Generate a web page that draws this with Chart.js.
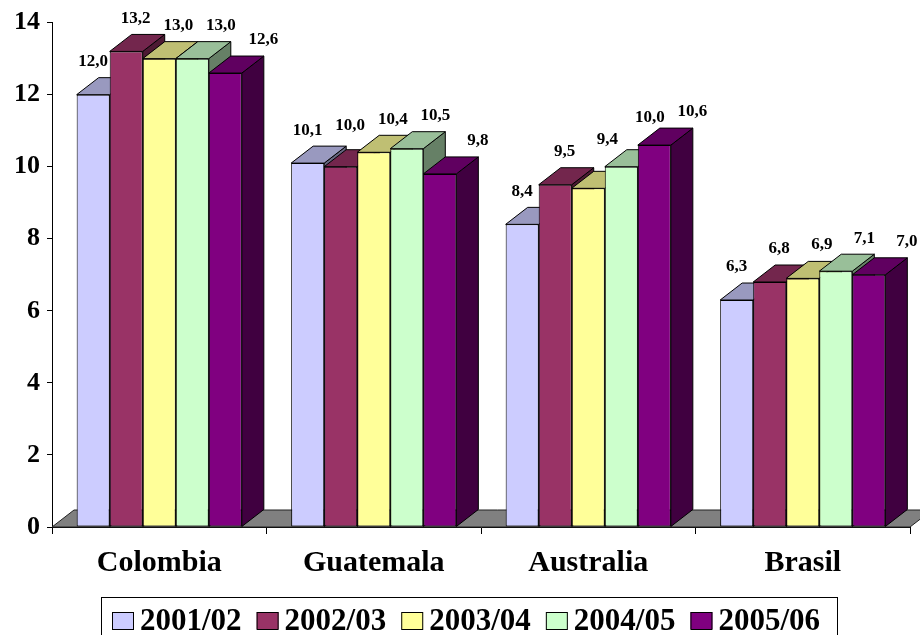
<!DOCTYPE html>
<html>
<head>
<meta charset="utf-8">
<title>Producción por temporada</title>
<script src="https://cdn.jsdelivr.net/npm/chart.js@4/dist/chart.umd.min.js"></script>
<style>
  html, body { margin: 0; padding: 0; background: #ffffff; }
  #wrap { width: 920px; height: 635px; position: relative; }
  canvas { display: block; }
</style>
</head>
<body>
<div id="wrap"><canvas id="chart" width="920" height="635"></canvas></div>
<script>
// Categories, seasons and values
const countries = ['Colombia', 'Guatemala', 'Australia', 'Brasil'];
const seasons = ['2001/02', '2002/03', '2003/04', '2004/05', '2005/06'];
const season2001 = [12.0, 10.1, 8.4, 6.3];
const season2002 = [13.2, 10.0, 9.5, 6.8];
const season2003 = [13.0, 10.4, 9.4, 6.9];
const season2004 = [13.0, 10.5, 10.0, 7.1];
const season2005 = [12.6, 9.8, 10.6, 7.0];
const yTickValues = [0, 2, 4, 6, 8, 10, 12, 14];

const seriesValues = [season2001, season2002, season2003, season2004, season2005];
const frontColors = ['#CCCCFF', '#993366', '#FFFF99', '#CCFFCC', '#800080'];

// Extrusion of the columns (pixels to the right / upwards)
const DEPTH_X = 22;
const DEPTH_Y = -17;
const SERIF = '"Liberation Serif", "Times New Roman", serif';

function shade(hex, f) {
  const n = parseInt(hex.slice(1), 16);
  const r = Math.round(((n >> 16) & 255) * f);
  const g = Math.round(((n >> 8) & 255) * f);
  const b = Math.round((n & 255) * f);
  return 'rgb(' + r + ',' + g + ',' + b + ')';
}

function poly(ctx, pts, fill) {
  ctx.beginPath();
  ctx.moveTo(pts[0][0], pts[0][1]);
  for (let i = 1; i < pts.length; i++) ctx.lineTo(pts[i][0], pts[i][1]);
  ctx.closePath();
  ctx.fillStyle = fill;
  ctx.fill();
  ctx.stroke();
}

const columns3d = {
  id: 'columns3d',
  beforeDatasetsDraw(chart) {
    // grey floor under the columns
    const { ctx, chartArea: a } = chart;
    ctx.save();
    ctx.lineWidth = 1;
    ctx.strokeStyle = '#222222';
    poly(ctx, [
      [a.left, a.bottom], [a.right, a.bottom],
      [a.right + DEPTH_X, a.bottom + DEPTH_Y], [a.left + DEPTH_X, a.bottom + DEPTH_Y]
    ], '#808080');
    ctx.restore();
  },
  beforeDatasetDraw() {
    // the columns are painted below, back to front from the first series
    return false;
  },
  afterDatasetsDraw(chart) {
    const ctx = chart.ctx;
    const nSets = chart.data.datasets.length;
    chart.data.datasets.forEach((ds, i) => {
      const meta = chart.getDatasetMeta(i);
      const base = ds.backgroundColor;
      ctx.save();
      ctx.lineWidth = 1;
      ctx.strokeStyle = '#000000';
      meta.data.forEach(el => {
        const p = el.getProps(['x', 'y', 'base', 'width'], true);
        const x0 = p.x - p.width / 2, x1 = p.x + p.width / 2;
        // side face, then top face
        poly(ctx, [[x1, p.y], [x1 + DEPTH_X, p.y + DEPTH_Y], [x1 + DEPTH_X, p.base + DEPTH_Y], [x1, p.base]], shade(base, 0.5));
        poly(ctx, [[x0, p.y], [x1, p.y], [x1 + DEPTH_X, p.y + DEPTH_Y], [x0 + DEPTH_X, p.y + DEPTH_Y]], shade(base, 0.75));
      });
      ctx.restore();
      // front faces through the bar elements
      meta.data.forEach(el => el.draw(ctx, chart.chartArea));
    });

    // value labels with decimal comma, lifted clear of the next column's top
    ctx.save();
    ctx.font = 'bold 17px ' + SERIF;
    ctx.fillStyle = '#000000';
    ctx.textAlign = 'center';
    ctx.textBaseline = 'middle';
    chart.data.datasets.forEach((ds, i) => {
      const meta = chart.getDatasetMeta(i);
      meta.data.forEach((el, j) => {
        const p = el.getProps(['x', 'y', 'width'], true);
        const txt = ds.data[j].toFixed(1).replace('.', ',');
        const lx = p.x + 9.5 * i;
        let ly = p.y - 33;
        const half = ctx.measureText(txt).width / 2;
        if (i + 1 < nSets) {
          const n = chart.getDatasetMeta(i + 1).data[j].getProps(['x', 'y', 'width'], true);
          const nLeft = n.x - n.width / 2;
          if (lx + half > nLeft) ly = Math.min(ly, n.y + DEPTH_Y - 10);
        }
        ctx.fillText(txt, lx, ly);
      });
    });
    ctx.restore();
  },
  afterDraw(chart) {
    // framed legend along the bottom edge
    const ctx = chart.ctx;
    ctx.save();
    ctx.lineWidth = 1;
    ctx.strokeStyle = '#000000';
    ctx.strokeRect(101.5, 597.5, 736, 60);
    ctx.font = 'bold 31px ' + SERIF;
    ctx.textAlign = 'left';
    ctx.textBaseline = 'alphabetic';
    let x = 112;
    chart.data.datasets.forEach(ds => {
      ctx.fillStyle = ds.backgroundColor;
      ctx.fillRect(x, 612, 22, 17);
      ctx.strokeRect(x + 0.5, 612.5, 21, 17);
      ctx.fillStyle = '#000000';
      ctx.fillText(ds.label, x + 28, 630);
      x += 28 + ctx.measureText(ds.label).width + 15;
    });
    ctx.restore();
  }
};

const datasets = seasons.map((label, i) => ({
  label: label,
  data: seriesValues[i],
  backgroundColor: frontColors[i],
  borderColor: '#000000',
  borderWidth: 1,
  borderSkipped: false,
  clip: false
}));

new Chart(document.getElementById('chart'), {
  type: 'bar',
  data: { labels: countries, datasets: datasets },
  plugins: [columns3d],
  options: {
    responsive: false,
    animation: false,
    devicePixelRatio: 1,
    categoryPercentage: 0.77,
    barPercentage: 1.0,
    layout: { padding: { top: 20, right: 10, bottom: 48, left: 0 } },
    plugins: {
      legend: { display: false },
      tooltip: { enabled: false },
      title: { display: false }
    },
    scales: {
      x: {
        afterFit(s) { s.height = 60; },
        grid: {
          display: true, offset: true, drawOnChartArea: false,
          drawTicks: true, tickLength: 7, color: '#000000'
        },
        border: { display: true, color: '#000000', width: 1 },
        ticks: {
          color: '#000000', padding: 11,
          font: { family: SERIF, size: 30, weight: 'bold' }
        }
      },
      y: {
        min: 0, max: 14,
        afterFit(s) { s.width = 52; },
        afterBuildTicks(s) { s.ticks = yTickValues.map(v => ({ value: v })); },
        grid: {
          display: true, drawOnChartArea: false,
          drawTicks: true, tickLength: 5, color: '#000000'
        },
        border: { display: true, color: '#000000', width: 1 },
        ticks: {
          color: '#000000', padding: 7,
          font: { family: SERIF, size: 26, weight: 'bold' }
        }
      }
    }
  }
});
</script>
</body>
</html>
